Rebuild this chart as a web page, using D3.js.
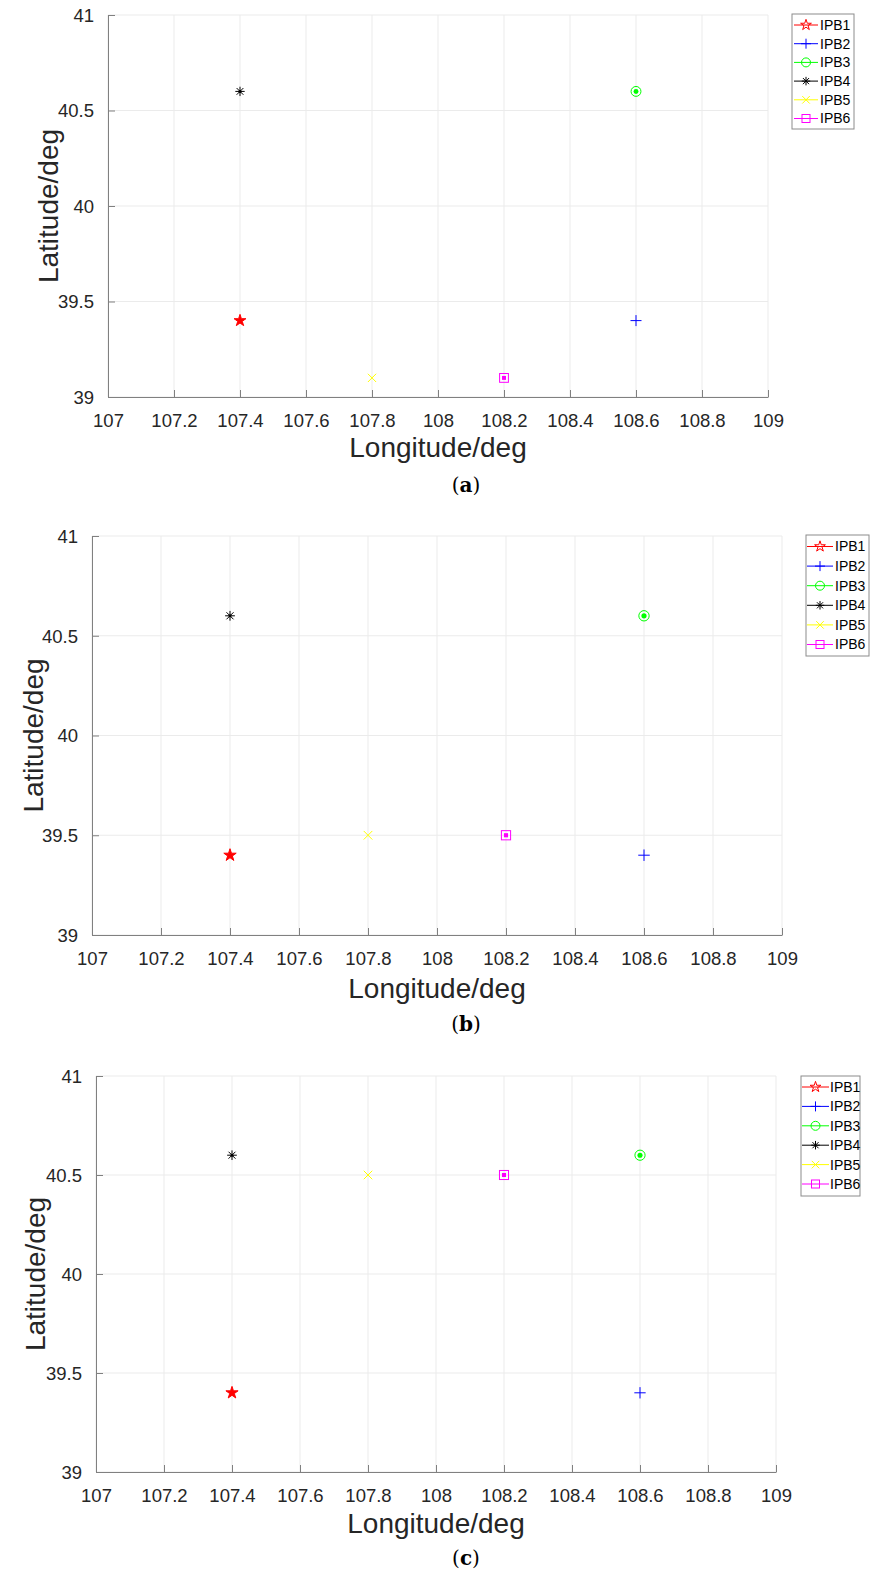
<!DOCTYPE html>
<html>
<head>
<meta charset="utf-8">
<script src="https://cdn.jsdelivr.net/npm/d3@7"></script>
<style>
  body { margin: 0; background: #fff; }
  svg { display: block; }
</style>
</head>
<body>
<svg id="chart" width="870" height="1573"></svg>
<script>
// series names and colours
var names = ["IPB1", "IPB2", "IPB3", "IPB4", "IPB5", "IPB6"];
var colors = ["#ff0000", "#0000ff", "#00ff00", "#000000", "#ffff00", "#ff00ff"];
var shapes = ["star", "plus", "circle", "asterisk", "x", "square"];

// point positions (lon, lat) for each panel
var lonA = [107.4, 108.6, 108.6, 107.4, 107.8, 108.2];
var latA = [39.4, 39.4, 40.6, 40.6, 39.1, 39.1];
var lonB = [107.4, 108.6, 108.6, 107.4, 107.8, 108.2];
var latB = [39.4, 39.4, 40.6, 40.6, 39.5, 39.5];
var lonC = [107.4, 108.6, 108.6, 107.4, 107.8, 108.2];
var latC = [39.4, 39.4, 40.6, 40.6, 40.5, 40.5];

// axis ticks
var xTicks = [107, 107.2, 107.4, 107.6, 107.8, 108, 108.2, 108.4, 108.6, 108.8, 109];
var yTicks = [39, 39.5, 40, 40.5, 41];
var captions = ["a", "b", "c"];

// layout of each panel
var panels = [
  {lon: lonA, lat: latA, l: 108, r: 768, t: 15, b: 397, ylabX: 48, xlabY: 447, capY: 485,
   leg: {x: 792, y: 14, w: 62, h: 115, row0: 25, dy: 18.7, l1: 794, l2: 818, tx: 820}},
  {lon: lonB, lat: latB, l: 92, r: 782, t: 536, b: 935, ylabX: 33, xlabY: 988, capY: 1024,
   leg: {x: 806, y: 535, w: 63, h: 121, row0: 546.5, dy: 19.6, l1: 807, l2: 833, tx: 835}},
  {lon: lonC, lat: latC, l: 96, r: 776, t: 1076, b: 1472, ylabX: 35, xlabY: 1523, capY: 1558,
   leg: {x: 801, y: 1076, w: 59, h: 120, row0: 1087, dy: 19.4, l1: 802, l2: 829, tx: 830}}
];

var svg = d3.select("#chart");
var font = "'Liberation Sans', Arial, Helvetica, sans-serif";

// draw one marker at (0,0) in group g
function drawMarker(g, shape, color, s, filled) {
  var h = s / 2;
  if (shape == "star") {
    g.append("path")
      .attr("d", d3.symbol().type(d3.symbolStar).size(s * s * 0.36)())
      .attr("fill", filled ? color : "none")
      .attr("stroke", color).attr("stroke-width", 1);
  } else if (shape == "plus") {
    g.append("path").attr("d", "M" + (-h) + ",0H" + h + "M0," + (-h) + "V" + h)
      .attr("stroke", color).attr("stroke-width", 1).attr("fill", "none");
  } else if (shape == "x") {
    var k = h * 0.75;
    g.append("path").attr("d", "M" + (-k) + "," + (-k) + "L" + k + "," + k + "M" + (-k) + "," + k + "L" + k + "," + (-k))
      .attr("stroke", color).attr("stroke-width", 1).attr("fill", "none");
  } else if (shape == "asterisk") {
    var a = h * 0.85, c = a * 0.72;
    g.append("path").attr("d", "M" + (-a) + ",0H" + a + "M0," + (-a) + "V" + a +
        "M" + (-c) + "," + (-c) + "L" + c + "," + c + "M" + (-c) + "," + c + "L" + c + "," + (-c))
      .attr("stroke", color).attr("stroke-width", 1).attr("fill", "none");
    if (filled) g.append("circle").attr("r", 1.5).attr("fill", color);
  } else if (shape == "circle") {
    g.append("circle").attr("r", h * 0.9).attr("fill", "none")
      .attr("stroke", color).attr("stroke-width", 1);
    if (filled) g.append("circle").attr("r", h * 0.45).attr("fill", color);
  } else if (shape == "square") {
    var q = h * 0.8;
    g.append("rect").attr("x", -q).attr("y", -q).attr("width", 2 * q).attr("height", 2 * q)
      .attr("fill", "none").attr("stroke", color).attr("stroke-width", 1);
    if (filled) g.append("rect").attr("x", -q * 0.45).attr("y", -q * 0.45)
      .attr("width", q * 0.9).attr("height", q * 0.9).attr("fill", color);
  }
}

panels.forEach(function(p, pi) {
  var x = d3.scaleLinear().domain([107, 109]).range([p.l, p.r]);
  var y = d3.scaleLinear().domain([39, 41]).range([p.b, p.t]);
  var g = svg.append("g");
  var ms = 11 * (p.r - p.l) / 660;

  // grid
  g.append("g").selectAll("line").data(xTicks).enter().append("line")
    .attr("x1", d => x(d)).attr("x2", d => x(d)).attr("y1", p.t).attr("y2", p.b)
    .attr("stroke", "#ebebeb").attr("stroke-width", 1);
  g.append("g").selectAll("line").data(yTicks).enter().append("line")
    .attr("y1", d => y(d)).attr("y2", d => y(d)).attr("x1", p.l).attr("x2", p.r)
    .attr("stroke", "#ebebeb").attr("stroke-width", 1);

  // axes
  var xAxis = d3.axisBottom(x).tickValues(xTicks).tickSizeInner(-7).tickSizeOuter(0)
    .tickPadding(17).tickFormat(d3.format("~g"));
  var yAxis = d3.axisLeft(y).tickValues(yTicks).tickSizeInner(-7).tickSizeOuter(0)
    .tickPadding(14).tickFormat(d3.format("~g"));
  var gx = g.append("g").attr("transform", "translate(0," + p.b + ")").call(xAxis);
  var gy = g.append("g").attr("transform", "translate(" + p.l + ",0)").call(yAxis);
  [gx, gy].forEach(function(ax) {
    ax.select(".domain").attr("stroke", "#808080");
    ax.selectAll(".tick line").attr("stroke", "#808080");
    ax.selectAll("text").attr("fill", "#262626").style("font-family", font).style("font-size", "18.5px");
  });
  gy.selectAll("text").attr("dy", "0.35em");

  // labels
  g.append("text").attr("x", (p.l + p.r) / 2).attr("y", p.xlabY).attr("dy", "0.35em")
    .attr("text-anchor", "middle").attr("fill", "#262626")
    .style("font-family", font).style("font-size", "28px").text("Longitude/deg");
  g.append("text").attr("transform", "translate(" + p.ylabX + "," + ((p.t + p.b) / 2) + ") rotate(-90)")
    .attr("dy", "0.35em").attr("text-anchor", "middle").attr("fill", "#262626")
    .style("font-family", font).style("font-size", "28px").text("Latitude/deg");

  // caption
  var cap = g.append("text").attr("x", 466).attr("y", p.capY).attr("dy", "0.35em")
    .attr("text-anchor", "middle").attr("fill", "#000")
    .style("font-family", "'DejaVu Serif', 'Liberation Serif', serif").style("font-size", "20px");
  cap.append("tspan").text("(");
  cap.append("tspan").attr("font-weight", "bold").text(captions[pi]);
  cap.append("tspan").text(")");

  // points
  names.forEach(function(n, i) {
    var m = g.append("g").attr("transform", "translate(" + x(p.lon[i]) + "," + y(p.lat[i]) + ")");
    drawMarker(m, shapes[i], colors[i], ms, true);
  });

  // legend
  var L = p.leg;
  g.append("rect").attr("x", L.x).attr("y", L.y).attr("width", L.w).attr("height", L.h)
    .attr("fill", "#fff").attr("stroke", "#8c8c8c").attr("stroke-width", 1);
  names.forEach(function(n, i) {
    var yy = L.row0 + i * L.dy;
    g.append("line").attr("x1", L.l1).attr("x2", L.l2).attr("y1", yy).attr("y2", yy)
      .attr("stroke", colors[i]).attr("stroke-width", 1);
    var m = g.append("g").attr("transform", "translate(" + ((L.l1 + L.l2) / 2) + "," + yy + ")");
    drawMarker(m, shapes[i], colors[i], 10, false);
    g.append("text").attr("x", L.tx).attr("y", yy).attr("dy", "0.35em").attr("fill", "#000")
      .style("font-family", font).style("font-size", "14px").text(n);
  });
});
</script>
</body>
</html>
